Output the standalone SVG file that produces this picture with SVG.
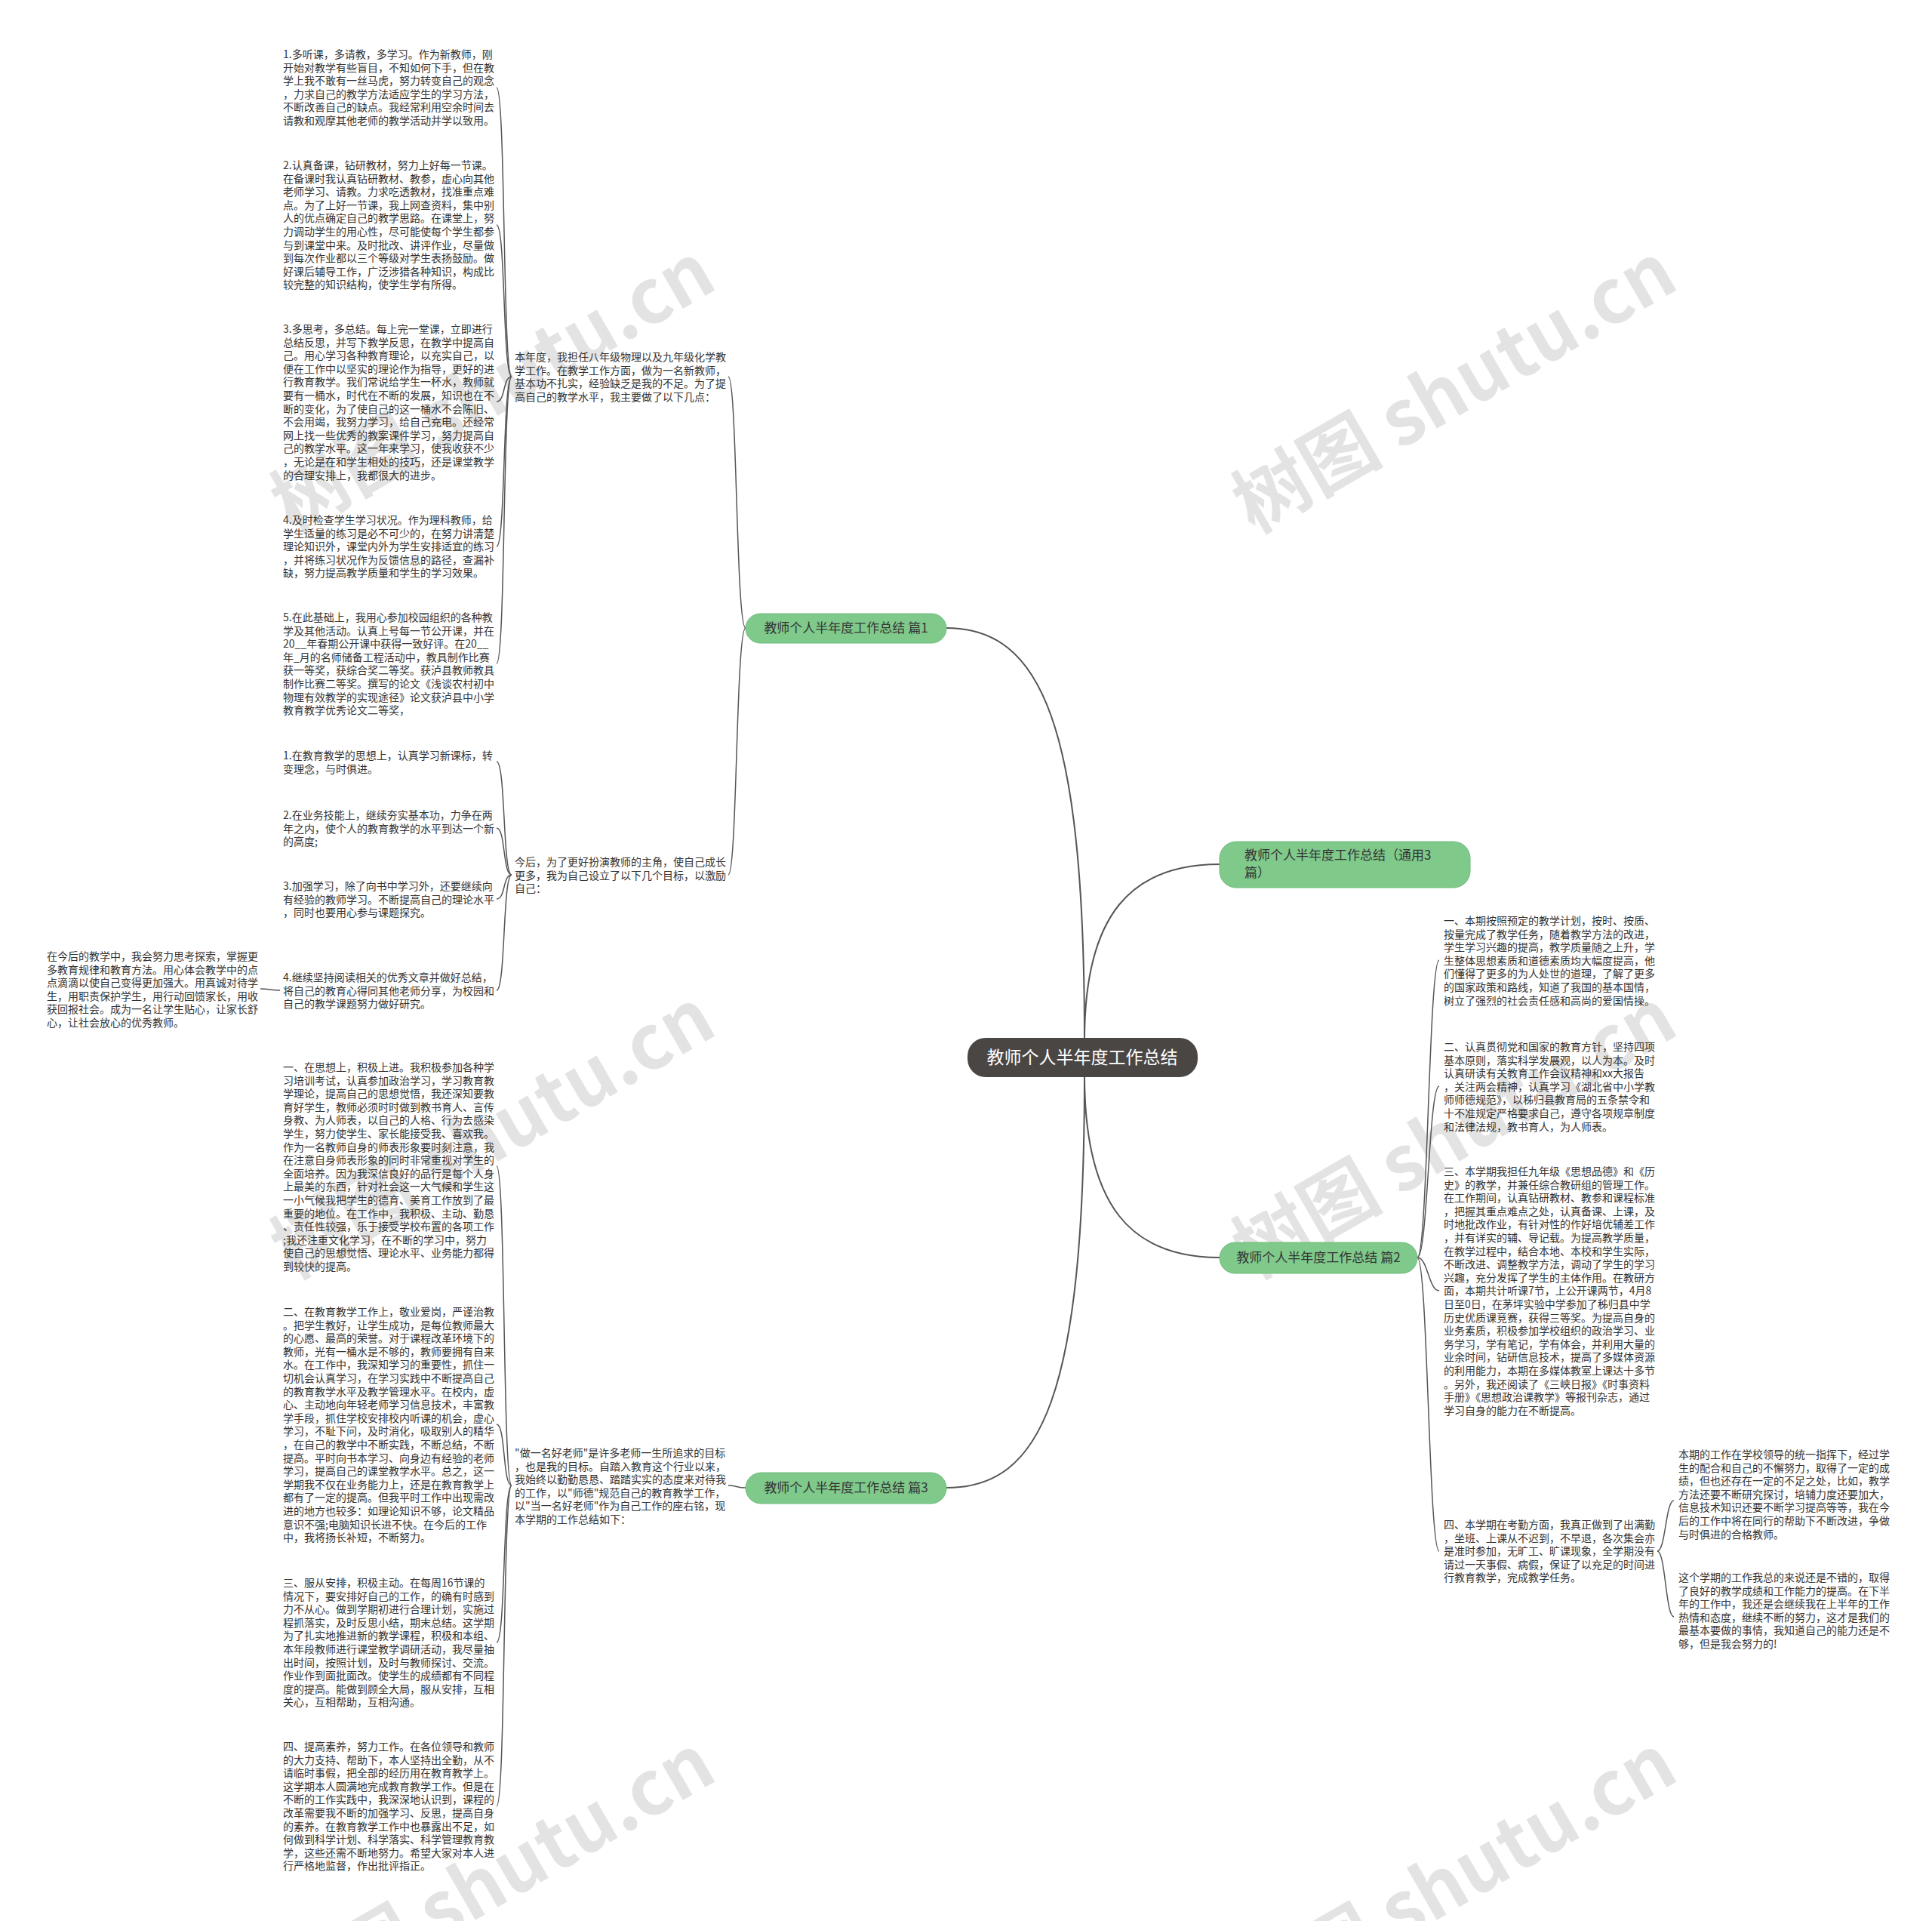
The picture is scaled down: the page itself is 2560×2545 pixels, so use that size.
<svg xmlns="http://www.w3.org/2000/svg" width="2560" height="2545" viewBox="0 0 2560 2545">
<style>
.t{font-family:"Noto Sans CJK SC","Noto Sans",sans-serif;font-size:14px;fill:#333}
.nt{font-family:"Noto Sans CJK SC","Noto Sans",sans-serif;font-size:17px;fill:#333}
.ct{font-family:"Noto Sans CJK SC","Noto Sans",sans-serif;font-size:23px;fill:#fff}
.node{fill:#7FC98B;stroke:#6DBB7A;stroke-width:1}
.c{fill:none;stroke:#555;stroke-width:2}
.b{fill:none;stroke:#555;stroke-width:1.5}
.wm{font-family:"Noto Sans CJK SC","DejaVu Sans",sans-serif;font-size:100px;font-weight:bold;fill:#000;fill-opacity:0.11}
</style>
<rect width="2560" height="2545" fill="#ffffff"/>
<g id="watermarks">
<text class="wm" text-anchor="middle" transform="translate(653,514) rotate(-30)" y="35">树图 shutu.cn</text>
<text class="wm" text-anchor="middle" transform="translate(1927,514) rotate(-30)" y="35">树图 shutu.cn</text>
<text class="wm" text-anchor="middle" transform="translate(653,1502) rotate(-30)" y="35">树图 shutu.cn</text>
<text class="wm" text-anchor="middle" transform="translate(1927,1502) rotate(-30)" y="35">树图 shutu.cn</text>
<text class="wm" text-anchor="middle" transform="translate(653,2490) rotate(-30)" y="35">树图 shutu.cn</text>
<text class="wm" text-anchor="middle" transform="translate(1927,2490) rotate(-30)" y="35">树图 shutu.cn</text>
</g>
<g id="connectors">
<path class="c" d="M1437 1378 C1437 960 1380 832 1254 832"/>
<path class="c" d="M1437 1378 C1437 1210 1500 1145 1616 1145"/>
<path class="c" d="M1437 1424 C1437 1600 1500 1666 1616 1666"/>
<path class="c" d="M1437 1424 C1437 1850 1380 1971 1254 1971"/>
<path class="b" d="M988 832 C975 832 977 499 965 499"/>
<path class="b" d="M988 832 C975 832 977 1159 965 1159"/>
<path class="b" d="M988 1971 C976 1971 976 1968 965 1968"/>
<path class="b" d="M678 499 C666 499 670 116 658 116"/>
<path class="b" d="M678 499 C666 499 670 298 658 298"/>
<path class="b" d="M678 499 C666 499 670 532 658 532"/>
<path class="b" d="M678 499 C666 499 670 724 658 724"/>
<path class="b" d="M678 499 C666 499 670 879 658 879"/>
<path class="b" d="M678 1159 C666 1159 670 1009 658 1009"/>
<path class="b" d="M678 1159 C666 1159 670 1097 658 1097"/>
<path class="b" d="M678 1159 C666 1159 670 1191 658 1191"/>
<path class="b" d="M678 1159 C666 1159 670 1312 658 1312"/>
<path class="b" d="M371 1312 C358 1312 358 1310 345 1310"/>
<path class="b" d="M678 1968 C666 1968 670 1545 658 1545"/>
<path class="b" d="M678 1968 C666 1968 670 1887 658 1887"/>
<path class="b" d="M678 1968 C666 1968 670 2176 658 2176"/>
<path class="b" d="M678 1968 C666 1968 670 2393 658 2393"/>
<path class="b" d="M1878 1666 C1892 1666 1893 1272 1907 1272"/>
<path class="b" d="M1878 1666 C1892 1666 1893 1439 1907 1439"/>
<path class="b" d="M1878 1666 C1892 1666 1893 1710 1907 1710"/>
<path class="b" d="M1878 1666 C1892 1666 1893 2055 1907 2055"/>
<path class="b" d="M2196 2055 C2207 2055 2207 1988 2218 1988"/>
<path class="b" d="M2196 2055 C2207 2055 2207 2142 2218 2142"/>
</g>
<g id="center">
<rect x="1282" y="1375" width="305" height="52" rx="24" fill="#4A4644"/>
<text class="ct" x="1434" y="1409" text-anchor="middle">教师个人半年度工作总结</text>
</g>
<g id="n-p1">
<rect class="node" x="988" y="813" width="266" height="39" rx="19.5"/>
<text class="nt" x="1121" y="838" text-anchor="middle">教师个人半年度工作总结 篇1</text>
</g>
<g id="n-general">
<rect class="node" x="1616" y="1115" width="332" height="61" rx="22"/>
<text class="nt" x="1649" y="1139"><tspan x="1649" y="1139">教师个人半年度工作总结（通用3</tspan><tspan x="1649" dy="23">篇）</tspan></text>
</g>
<g id="n-p2">
<rect class="node" x="1616" y="1646" width="262" height="41" rx="20.5"/>
<text class="nt" x="1747" y="1672" text-anchor="middle">教师个人半年度工作总结 篇2</text>
</g>
<g id="n-p3">
<rect class="node" x="988" y="1951" width="266" height="41" rx="20.5"/>
<text class="nt" x="1121" y="1977" text-anchor="middle">教师个人半年度工作总结 篇3</text>
</g>
<g id="t-intro1">
<text class="t"><tspan x="682" y="478">本年度，我担任八年级物理以及九年级化学教</tspan><tspan x="682" dy="17.6">学工作。在教学工作方面，做为一名新教师，</tspan><tspan x="682" dy="17.6">基本功不扎实，经验缺乏是我的不足。为了提</tspan><tspan x="682" dy="17.6">高自己的教学水平，我主要做了以下几点：</tspan></text>
</g>
<g id="t-b1">
<text class="t"><tspan x="375" y="77">1.多听课，多请教，多学习。作为新教师，刚</tspan><tspan x="375" dy="17.6">开始对教学有些盲目，不知如何下手，但在教</tspan><tspan x="375" dy="17.6">学上我不敢有一丝马虎，努力转变自己的观念</tspan><tspan x="375" dy="17.6">，力求自己的教学方法适应学生的学习方法，</tspan><tspan x="375" dy="17.6">不断改善自己的缺点。我经常利用空余时间去</tspan><tspan x="375" dy="17.6">请教和观摩其他老师的教学活动并学以致用。</tspan></text>
</g>
<g id="t-b2">
<text class="t"><tspan x="375" y="224">2.认真备课，钻研教材，努力上好每一节课。</tspan><tspan x="375" dy="17.6">在备课时我认真钻研教材、教参，虚心向其他</tspan><tspan x="375" dy="17.6">老师学习、请教。力求吃透教材，找准重点难</tspan><tspan x="375" dy="17.6">点。为了上好一节课，我上网查资料，集中别</tspan><tspan x="375" dy="17.6">人的优点确定自己的教学思路。在课堂上，努</tspan><tspan x="375" dy="17.6">力调动学生的用心性，尽可能使每个学生都参</tspan><tspan x="375" dy="17.6">与到课堂中来。及时批改、讲评作业，尽量做</tspan><tspan x="375" dy="17.6">到每次作业都以三个等级对学生表扬鼓励。做</tspan><tspan x="375" dy="17.6">好课后辅导工作，广泛涉猎各种知识，构成比</tspan><tspan x="375" dy="17.6">较完整的知识结构，使学生学有所得。</tspan></text>
</g>
<g id="t-b3">
<text class="t"><tspan x="375" y="441">3.多思考，多总结。每上完一堂课，立即进行</tspan><tspan x="375" dy="17.6">总结反思，并写下教学反思，在教学中提高自</tspan><tspan x="375" dy="17.6">己。用心学习各种教育理论，以充实自己，以</tspan><tspan x="375" dy="17.6">便在工作中以坚实的理论作为指导，更好的进</tspan><tspan x="375" dy="17.6">行教育教学。我们常说给学生一杯水，教师就</tspan><tspan x="375" dy="17.6">要有一桶水，时代在不断的发展，知识也在不</tspan><tspan x="375" dy="17.6">断的变化，为了使自己的这一桶水不会陈旧、</tspan><tspan x="375" dy="17.6">不会用竭，我努力学习，给自己充电。还经常</tspan><tspan x="375" dy="17.6">网上找一些优秀的教案课件学习，努力提高自</tspan><tspan x="375" dy="17.6">己的教学水平。这一年来学习，使我收获不少</tspan><tspan x="375" dy="17.6">，无论是在和学生相处的技巧，还是课堂教学</tspan><tspan x="375" dy="17.6">的合理安排上，我都很大的进步。</tspan></text>
</g>
<g id="t-b4">
<text class="t"><tspan x="375" y="694">4.及时检查学生学习状况。作为理科教师，给</tspan><tspan x="375" dy="17.6">学生适量的练习是必不可少的，在努力讲清楚</tspan><tspan x="375" dy="17.6">理论知识外，课堂内外为学生安排适宜的练习</tspan><tspan x="375" dy="17.6">，并将练习状况作为反馈信息的路径，查漏补</tspan><tspan x="375" dy="17.6">缺，努力提高教学质量和学生的学习效果。</tspan></text>
</g>
<g id="t-b5">
<text class="t"><tspan x="375" y="823">5.在此基础上，我用心参加校园组织的各种教</tspan><tspan x="375" dy="17.6">学及其他活动。认真上号每一节公开课，并在</tspan><tspan x="375" dy="17.6">20__年春期公开课中获得一致好评。在20__</tspan><tspan x="375" dy="17.6">年_月的名师储备工程活动中，教具制作比赛</tspan><tspan x="375" dy="17.6">获一等奖，获综合奖二等奖。获泸县教师教具</tspan><tspan x="375" dy="17.6">制作比赛二等奖。撰写的论文《浅谈农村初中</tspan><tspan x="375" dy="17.6">物理有效教学的实现途径》论文获泸县中小学</tspan><tspan x="375" dy="17.6">教育教学优秀论文二等奖，</tspan></text>
</g>
<g id="t-intro2">
<text class="t"><tspan x="682" y="1147">今后，为了更好扮演教师的主角，使自己成长</tspan><tspan x="682" dy="17.6">更多，我为自己设立了以下几个目标，以激励</tspan><tspan x="682" dy="17.6">自己：</tspan></text>
</g>
<g id="t-g1">
<text class="t"><tspan x="375" y="1006">1.在教育教学的思想上，认真学习新课标，转</tspan><tspan x="375" dy="17.6">变理念，与时俱进。</tspan></text>
</g>
<g id="t-g2">
<text class="t"><tspan x="375" y="1085">2.在业务技能上，继续夯实基本功，力争在两</tspan><tspan x="375" dy="17.6">年之内，使个人的教育教学的水平到达一个新</tspan><tspan x="375" dy="17.6">的高度;</tspan></text>
</g>
<g id="t-g3">
<text class="t"><tspan x="375" y="1179">3.加强学习，除了向书中学习外，还要继续向</tspan><tspan x="375" dy="17.6">有经验的教师学习。不断提高自己的理论水平</tspan><tspan x="375" dy="17.6">，同时也要用心参与课题探究。</tspan></text>
</g>
<g id="t-g4">
<text class="t"><tspan x="375" y="1300">4.继续坚持阅读相关的优秀文章并做好总结，</tspan><tspan x="375" dy="17.6">将自己的教育心得同其他老师分享，为校园和</tspan><tspan x="375" dy="17.6">自己的教学课题努力做好研究。</tspan></text>
</g>
<g id="t-fl">
<text class="t"><tspan x="62" y="1272">在今后的教学中，我会努力思考探索，掌握更</tspan><tspan x="62" dy="17.6">多教育规律和教育方法。用心体会教学中的点</tspan><tspan x="62" dy="17.6">点滴滴以使自己变得更加强大。用真诚对待学</tspan><tspan x="62" dy="17.6">生，用职责保护学生，用行动回馈家长，用收</tspan><tspan x="62" dy="17.6">获回报社会。成为一名让学生贴心，让家长舒</tspan><tspan x="62" dy="17.6">心，让社会放心的优秀教师。</tspan></text>
</g>
<g id="t-intro3">
<text class="t"><tspan x="682" y="1930">"做一名好老师"是许多老师一生所追求的目标</tspan><tspan x="682" dy="17.6">，也是我的目标。自踏入教育这个行业以来，</tspan><tspan x="682" dy="17.6">我始终以勤勤恳恳、踏踏实实的态度来对待我</tspan><tspan x="682" dy="17.6">的工作，以"师德"规范自己的教育教学工作，</tspan><tspan x="682" dy="17.6">以"当一名好老师"作为自己工作的座右铭，现</tspan><tspan x="682" dy="17.6">本学期的工作总结如下：</tspan></text>
</g>
<g id="t-s1">
<text class="t"><tspan x="375" y="1419">一、在思想上，积极上进。我积极参加各种学</tspan><tspan x="375" dy="17.6">习培训考试，认真参加政治学习，学习教育教</tspan><tspan x="375" dy="17.6">学理论，提高自己的思想觉悟，我还深知要教</tspan><tspan x="375" dy="17.6">育好学生，教师必须时时做到教书育人、言传</tspan><tspan x="375" dy="17.6">身教、为人师表，以自己的人格、行为去感染</tspan><tspan x="375" dy="17.6">学生，努力使学生、家长能接受我、喜欢我。</tspan><tspan x="375" dy="17.6">作为一名教师自身的师表形象要时刻注意，我</tspan><tspan x="375" dy="17.6">在注意自身师表形象的同时非常重视对学生的</tspan><tspan x="375" dy="17.6">全面培养。因为我深信良好的品行是每个人身</tspan><tspan x="375" dy="17.6">上最美的东西，针对社会这一大气候和学生这</tspan><tspan x="375" dy="17.6">一小气候我把学生的德育、美育工作放到了最</tspan><tspan x="375" dy="17.6">重要的地位。在工作中，我积极、主动、勤恳</tspan><tspan x="375" dy="17.6">、责任性较强，乐于接受学校布置的各项工作</tspan><tspan x="375" dy="17.6">;我还注重文化学习，在不断的学习中，努力</tspan><tspan x="375" dy="17.6">使自己的思想觉悟、理论水平、业务能力都得</tspan><tspan x="375" dy="17.6">到较快的提高。</tspan></text>
</g>
<g id="t-s2">
<text class="t"><tspan x="375" y="1743">二、在教育教学工作上，敬业爱岗，严谨治教</tspan><tspan x="375" dy="17.6">。把学生教好，让学生成功，是每位教师最大</tspan><tspan x="375" dy="17.6">的心愿、最高的荣誉。对于课程改革环境下的</tspan><tspan x="375" dy="17.6">教师，光有一桶水是不够的，教师要拥有自来</tspan><tspan x="375" dy="17.6">水。在工作中，我深知学习的重要性，抓住一</tspan><tspan x="375" dy="17.6">切机会认真学习，在学习实践中不断提高自己</tspan><tspan x="375" dy="17.6">的教育教学水平及教学管理水平。在校内，虚</tspan><tspan x="375" dy="17.6">心、主动地向年轻老师学习信息技术，丰富教</tspan><tspan x="375" dy="17.6">学手段，抓住学校安排校内听课的机会，虚心</tspan><tspan x="375" dy="17.6">学习，不耻下问，及时消化，吸取别人的精华</tspan><tspan x="375" dy="17.6">，在自己的教学中不断实践，不断总结，不断</tspan><tspan x="375" dy="17.6">提高。平时向书本学习、向身边有经验的老师</tspan><tspan x="375" dy="17.6">学习，提高自己的课堂教学水平。总之，这一</tspan><tspan x="375" dy="17.6">学期我不仅在业务能力上，还是在教育教学上</tspan><tspan x="375" dy="17.6">都有了一定的提高。但我平时工作中出现需改</tspan><tspan x="375" dy="17.6">进的地方也较多：如理论知识不够，论文精品</tspan><tspan x="375" dy="17.6">意识不强;电脑知识长进不快。在今后的工作</tspan><tspan x="375" dy="17.6">中，我将扬长补短，不断努力。</tspan></text>
</g>
<g id="t-s3">
<text class="t"><tspan x="375" y="2102">三、服从安排，积极主动。在每周16节课的</tspan><tspan x="375" dy="17.6">情况下，要安排好自己的工作，的确有时感到</tspan><tspan x="375" dy="17.6">力不从心。做到学期初进行合理计划，实施过</tspan><tspan x="375" dy="17.6">程抓落实，及时反思小结，期末总结。这学期</tspan><tspan x="375" dy="17.6">为了扎实地推进新的教学课程，积极和本组、</tspan><tspan x="375" dy="17.6">本年段教师进行课堂教学调研活动，我尽量抽</tspan><tspan x="375" dy="17.6">出时间，按照计划，及时与教师探讨、交流。</tspan><tspan x="375" dy="17.6">作业作到面批面改。使学生的成绩都有不同程</tspan><tspan x="375" dy="17.6">度的提高。能做到顾全大局，服从安排，互相</tspan><tspan x="375" dy="17.6">关心，互相帮助，互相沟通。</tspan></text>
</g>
<g id="t-s4">
<text class="t"><tspan x="375" y="2319">四、提高素养，努力工作。在各位领导和教师</tspan><tspan x="375" dy="17.6">的大力支持、帮助下，本人坚持出全勤，从不</tspan><tspan x="375" dy="17.6">请临时事假，把全部的经历用在教育教学上。</tspan><tspan x="375" dy="17.6">这学期本人圆满地完成教育教学工作。但是在</tspan><tspan x="375" dy="17.6">不断的工作实践中，我深深地认识到，课程的</tspan><tspan x="375" dy="17.6">改革需要我不断的加强学习、反思，提高自身</tspan><tspan x="375" dy="17.6">的素养。在教育教学工作中也暴露出不足，如</tspan><tspan x="375" dy="17.6">何做到科学计划、科学落实、科学管理教育教</tspan><tspan x="375" dy="17.6">学，这些还需不断地努力。希望大家对本人进</tspan><tspan x="375" dy="17.6">行严格地监督，作出批评指正。</tspan></text>
</g>
<g id="t-r1">
<text class="t"><tspan x="1913" y="1225">一、本期按照预定的教学计划，按时、按质、</tspan><tspan x="1913" dy="17.6">按量完成了教学任务，随着教学方法的改进，</tspan><tspan x="1913" dy="17.6">学生学习兴趣的提高，教学质量随之上升，学</tspan><tspan x="1913" dy="17.6">生整体思想素质和道德素质均大幅度提高，他</tspan><tspan x="1913" dy="17.6">们懂得了更多的为人处世的道理，了解了更多</tspan><tspan x="1913" dy="17.6">的国家政策和路线，知道了我国的基本国情，</tspan><tspan x="1913" dy="17.6">树立了强烈的社会责任感和高尚的爱国情操。</tspan></text>
</g>
<g id="t-r2">
<text class="t"><tspan x="1913" y="1392">二、认真贯彻党和国家的教育方针，坚持四项</tspan><tspan x="1913" dy="17.6">基本原则，落实科学发展观，以人为本。及时</tspan><tspan x="1913" dy="17.6">认真研读有关教育工作会议精神和xx大报告</tspan><tspan x="1913" dy="17.6">，关注两会精神，认真学习《湖北省中小学教</tspan><tspan x="1913" dy="17.6">师师德规范》，以秭归县教育局的五条禁令和</tspan><tspan x="1913" dy="17.6">十不准规定严格要求自己，遵守各项规章制度</tspan><tspan x="1913" dy="17.6">和法律法规，教书育人，为人师表。</tspan></text>
</g>
<g id="t-r3">
<text class="t"><tspan x="1913" y="1557">三、本学期我担任九年级《思想品德》和《历</tspan><tspan x="1913" dy="17.6">史》的教学，并兼任综合教研组的管理工作。</tspan><tspan x="1913" dy="17.6">在工作期间，认真钻研教材、教参和课程标准</tspan><tspan x="1913" dy="17.6">，把握其重点难点之处，认真备课、上课，及</tspan><tspan x="1913" dy="17.6">时地批改作业，有针对性的作好培优辅差工作</tspan><tspan x="1913" dy="17.6">，并有详实的辅、导记载。为提高教学质量，</tspan><tspan x="1913" dy="17.6">在教学过程中，结合本地、本校和学生实际，</tspan><tspan x="1913" dy="17.6">不断改进、调整教学方法，调动了学生的学习</tspan><tspan x="1913" dy="17.6">兴趣，充分发挥了学生的主体作用。在教研方</tspan><tspan x="1913" dy="17.6">面，本期共计听课7节，上公开课两节，4月8</tspan><tspan x="1913" dy="17.6">日至0日，在茅坪实验中学参加了秭归县中学</tspan><tspan x="1913" dy="17.6">历史优质课竞赛，获得三等奖。为提高自身的</tspan><tspan x="1913" dy="17.6">业务素质，积极参加学校组织的政治学习、业</tspan><tspan x="1913" dy="17.6">务学习，学有笔记，学有体会，并利用大量的</tspan><tspan x="1913" dy="17.6">业余时间，钻研信息技术，提高了多媒体资源</tspan><tspan x="1913" dy="17.6">的利用能力，本期在多媒体教室上课达十多节</tspan><tspan x="1913" dy="17.6">。另外，我还阅读了《三峡日报》《时事资料</tspan><tspan x="1913" dy="17.6">手册》《思想政治课教学》等报刊杂志，通过</tspan><tspan x="1913" dy="17.6">学习自身的能力在不断提高。</tspan></text>
</g>
<g id="t-r4">
<text class="t"><tspan x="1913" y="2025">四、本学期在考勤方面，我真正做到了出满勤</tspan><tspan x="1913" dy="17.6">，坐班、上课从不迟到，不早退，各次集会亦</tspan><tspan x="1913" dy="17.6">是准时参加，无旷工、旷课现象，全学期没有</tspan><tspan x="1913" dy="17.6">请过一天事假、病假，保证了以充足的时间进</tspan><tspan x="1913" dy="17.6">行教育教学，完成教学任务。</tspan></text>
</g>
<g id="t-fr1">
<text class="t"><tspan x="2224" y="1932">本期的工作在学校领导的统一指挥下，经过学</tspan><tspan x="2224" dy="17.6">生的配合和自己的不懈努力，取得了一定的成</tspan><tspan x="2224" dy="17.6">绩，但也还存在一定的不足之处，比如，教学</tspan><tspan x="2224" dy="17.6">方法还要不断研究探讨，培辅力度还要加大，</tspan><tspan x="2224" dy="17.6">信息技术知识还要不断学习提高等等，我在今</tspan><tspan x="2224" dy="17.6">后的工作中将在同行的帮助下不断改进，争做</tspan><tspan x="2224" dy="17.6">与时俱进的合格教师。</tspan></text>
</g>
<g id="t-fr2">
<text class="t"><tspan x="2224" y="2095">这个学期的工作我总的来说还是不错的，取得</tspan><tspan x="2224" dy="17.6">了良好的教学成绩和工作能力的提高。在下半</tspan><tspan x="2224" dy="17.6">年的工作中，我还是会继续我在上半年的工作</tspan><tspan x="2224" dy="17.6">热情和态度，继续不断的努力，这才是我们的</tspan><tspan x="2224" dy="17.6">最基本要做的事情，我知道自己的能力还是不</tspan><tspan x="2224" dy="17.6">够，但是我会努力的!</tspan></text>
</g>
</svg>
